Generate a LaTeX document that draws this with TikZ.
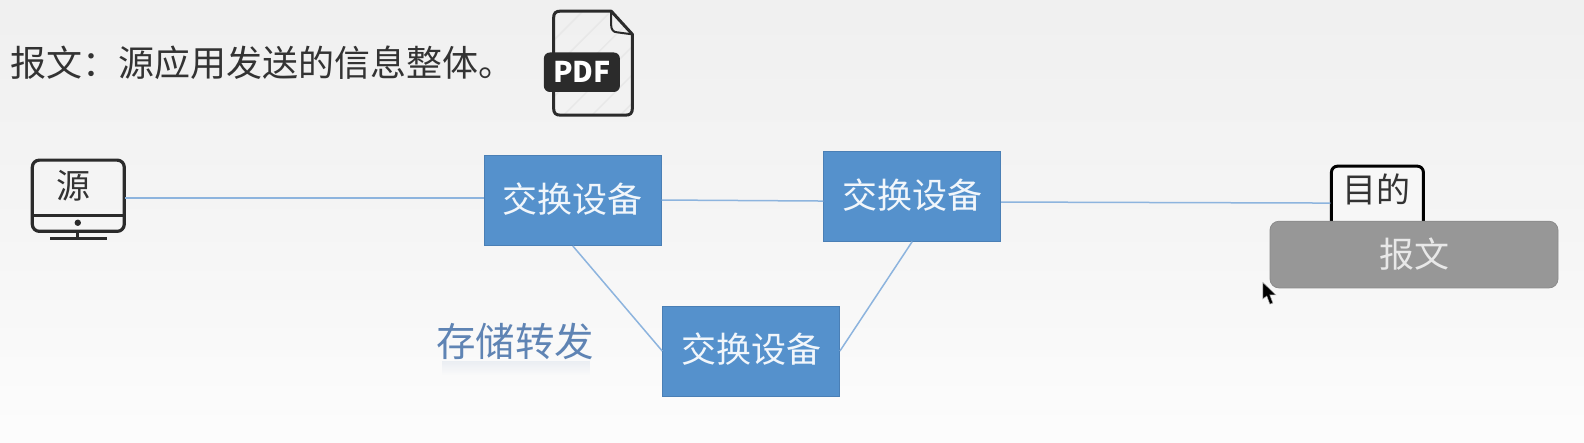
\documentclass[tikz,border=0pt]{standalone}
\usepackage{fontspec}
\setmainfont{Noto Sans CJK SC}
\usetikzlibrary{fadings}
\definecolor{bluebox}{HTML}{5591CC}
\definecolor{boxedge}{HTML}{4A7FB5}
\definecolor{linkblue}{HTML}{8DB4DE}
\definecolor{ink}{HTML}{333333}
\definecolor{iconink}{HTML}{2B2B2B}
\definecolor{greybar}{HTML}{979797}
\definecolor{greyedge}{HTML}{8A8A8A}
\definecolor{labelblue}{HTML}{5F84B4}
\tikzset{
  x=1.0102pt,y=-1.0102pt,
  switchbox/.style={draw=boxedge,line width=.8pt,fill=bluebox,text=white!92!bluebox,minimum width=176.8pt,minimum height=90pt,inner sep=0pt,font=\fontsize{35}{37}\selectfont},
  link/.style={draw=linkblue,line width=1.5pt},
  iconline/.style={draw=iconink,line width=3pt,line join=round},
  caption/.style={text=ink,inner sep=0pt,font=\fontsize{36}{38}\selectfont},
  hostlabel/.style={text=ink,inner sep=0pt,font=\fontsize{34}{36}\selectfont},
}
\begin{document}
\begin{tikzpicture}
\useasboundingbox (0,0) rectangle (1568,437.55);
\shade[top color=black!6,bottom color=black!1,middle color=black!4] (0,0) rectangle (1568,437.55);

% title
\node[caption,anchor=west] (title) at (10,62) {报文：源应用发送的信息整体。};

% pdf icon
\begin{scope}
\clip (548,11) -- (605,11) -- (626,34) -- (626,114) -- (548,114) -- cycle;
\foreach \i in {0,28,...,168}{\draw[black!9,line width=1.5pt] (540,{20+\i}) -- ({640},{-80+\i});}
\end{scope}
\draw[iconline] (548,53) -- (548,18) .. controls (548,13) and (550,11) .. (555,11) -- (605,11) -- (626,34) -- (626,107) .. controls (626,112) and (624,114) .. (619,114) -- (555,114) .. controls (550,114) and (548,112) .. (548,107) -- (548,91);
\draw[draw=iconink,line width=2pt,line join=round] (605,11) -- (605,25) .. controls (605,29) and (607,32) .. (611,32) -- (626,34);
\node[fill=iconink,rounded corners=6pt,minimum width=76pt,minimum height=39.5pt,inner sep=0pt,text=white,font=\fontsize{28.5}{30}\selectfont\bfseries] (pdf) at (576,71.5) {PDF};

% source monitor
\draw[iconline,line width=3.2pt,rounded corners=7pt] (32,158.5) rectangle (123,229);
\draw[iconline] (32,213.5) -- (123,213.5);
\fill[iconink] (77,220.5) circle (3.2pt);
\draw[iconline] (77,229) -- (77,236);
\draw[iconline,line width=3.5pt] (49.5,236) -- (105.5,236);
\node[hostlabel] (src) at (73,184) {源};
\coordinate (srcport) at (124,196);

% destination
\fill[white!97!black] (1318,219) -- (1318,171) -- (1325,164) -- (1402,164) -- (1409,171) -- (1409,219) -- cycle;
\draw[iconline,draw=black,line width=3pt,rounded corners=6pt] (1318,219) -- (1318,164.5) -- (1409,164.5) -- (1409,219);
\node[hostlabel] (dst) at (1363,187) {目的};
\coordinate (dstport) at (1317,201);

% message bar
\node[draw=greyedge,line width=.8pt,fill=greybar,rounded corners=9pt,minimum width=288pt,minimum height=66.7pt,inner sep=0pt,text=white!78!greybar,font=\fontsize{35}{37}\selectfont] (msg) at (1399.7,252) {\raisebox{2pt}{报文}};

% switches
\node[switchbox] (s1) at (567,198.5) {\raisebox{6pt}{交换设备}};
\node[switchbox] (s2) at (903,194.2) {\raisebox{6pt}{交换设备}};
\node[switchbox] (s3) at (743.5,347.5) {\raisebox{6pt}{交换设备}};

% links
\draw[link] (srcport) -- (s1.west |- srcport);
\draw[link] (s1.east |- 0,198) -- (s2.west |- 0,199);
\draw[link] (s2.east |- 0,200) -- (dstport);
\draw[link] (s1.south) -- (s3.west);
\draw[link] (s2.south) -- (s3.east);

% store and forward
\fill[labelblue,opacity=.1,path fading=south] (438,357) rectangle (584,371);
\node[text=labelblue,inner sep=0pt,font=\fontsize{39.5}{41}\selectfont] (sf) at (510,338) {存储转发};

% mouse pointer
\fill[black,draw=white!70!black,line width=.5pt] (1250,279.5) -- (1250,296) -- (1254,293) -- (1257,301) -- (1260,300) -- (1257,292) -- (1263,292) -- cycle;
\end{tikzpicture}
\end{document}
